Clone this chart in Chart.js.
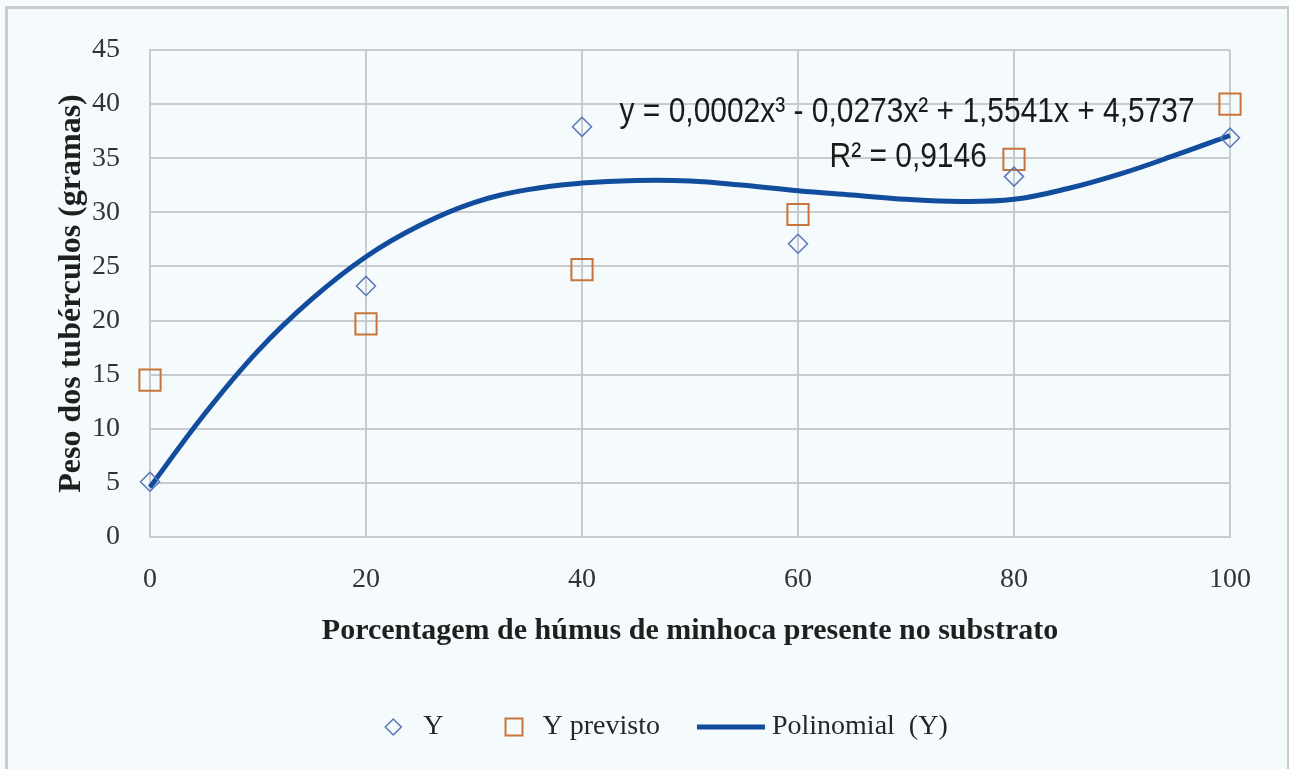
<!DOCTYPE html>
<html>
<head>
<meta charset="utf-8">
<script src="https://cdn.jsdelivr.net/npm/chart.js@4/dist/chart.umd.min.js"></script>
<style>
  html, body { margin:0; padding:0; background:#f5fbfd; }
  #wrap { position:relative; width:1289px; height:769px; }
  #c { position:absolute; left:0; top:0; }
  #frame { position:absolute; left:5px; top:6px; width:1279px; height:770px; border:3px solid #cbcbcb; border-bottom:none; pointer-events:none; }
</style>
</head>
<body>
<div id="wrap">
  <canvas id="c" width="1289" height="769"></canvas>
  <div id="frame"></div>
</div>
<script>
'use strict';
// ── Data ──────────────────────────────────────────────────
const X_VALUES = [0, 20, 40, 60, 80, 100];
const Y_OBS    = [5.1, 23.2, 37.9, 27.1, 33.3, 36.9];
const Y_PRED   = [14.5, 19.7, 24.7, 29.8, 34.9, 40.0];

// trend line
const TREND_X = [0, 5, 10, 15, 20, 25, 30, 35, 40, 45, 50, 55, 60, 65, 70, 75, 80, 85, 90, 95, 100];
const TREND_Y = [4.6, 11.3, 17.2, 22.0, 25.9, 28.8, 30.9, 32.1, 32.7, 32.95, 32.9, 32.5, 32.0, 31.6, 31.2, 31.0, 31.2, 32.2, 33.6, 35.3, 37.1];

const EQ_TEXT = 'y = 0,0002x³ - 0,0273x² + 1,5541x + 4,5737';
const R2_TEXT = 'R² = 0,9146';
const EQ_POS  = { x: 70.1, y: 39.2 };
const R2_POS  = { x: 70.2, y: 35.1 };
const EQ_WIDTH = 575;   // width of the equation label in the original

const SERIF = '"Liberation Serif", "Times New Roman", serif';
const SANS  = '"Liberation Sans", Arial, sans-serif';
const GRID = '#c8ccd0';
const C_OBS = '#5a76b6', C_PRED = '#c8743a', C_TREND = '#114d9c';

const pts = (xs, ys) => xs.map((x, i) => ({ x, y: ys[i] }));

// ── Plugins ───────────────────────────────────────────────
const bg = {
  id: 'bg',
  beforeDraw(chart) {
    const ctx = chart.ctx;
    ctx.save(); ctx.fillStyle = '#f5fbfd'; ctx.fillRect(0, 0, chart.width, chart.height); ctx.restore();
  }
};

// trendline label, squeezed horizontally like the original narrow font
const equation = {
  id: 'equation',
  afterDatasetsDraw(chart) {
    const { ctx, scales: { x, y } } = chart;
    ctx.save();
    ctx.fillStyle = '#1a1a1a';
    ctx.textAlign = 'center'; ctx.textBaseline = 'middle';
    ctx.font = `35px ${SANS}`;
    const k = EQ_WIDTH / ctx.measureText(EQ_TEXT).width;
    const put = (txt, p) => {
      ctx.save();
      ctx.translate(x.getPixelForValue(p.x), y.getPixelForValue(p.y));
      ctx.scale(k, 1);
      ctx.fillText(txt, 0, 0);
      ctx.restore();
    };
    put(EQ_TEXT, EQ_POS);
    put(R2_TEXT, R2_POS);
    ctx.restore();
  }
};

const legend = {
  id: 'customLegend',
  afterDraw(chart) {
    const ctx = chart.ctx;
    const ds = chart.data.datasets;
    const cy = chart.height - 42;
    ctx.save();
    ctx.font = `28px ${SERIF}`;
    ctx.textBaseline = 'middle';
    const items = [
      { d: ds[0], w: 16, gap: 22, after: 62, r: 8 },
      { d: ds[1], w: 17, gap: 20, after: 37, r: 12 },
      { d: ds[2], w: 68, gap: 7,  after: 0 },
    ];
    const total = items.reduce((s, it) => s + it.w + it.gap + ctx.measureText(it.d.label).width + it.after, 0);
    let x = (chart.width - total) / 2 + 22;
    for (const it of items) {
      const cx = x + it.w / 2;
      ctx.strokeStyle = it.d.borderColor;
      if (it.d.pointStyle === 'line') {
        ctx.lineWidth = 5;
        ctx.beginPath(); ctx.moveTo(x, cy); ctx.lineTo(x + it.w, cy); ctx.stroke();
      } else {
        ctx.fillStyle = 'rgba(255,255,255,0)';
        ctx.lineWidth = it.d.borderWidth;
        Chart.helpers.drawPoint(ctx, { pointStyle: it.d.pointStyle, radius: it.r, borderWidth: it.d.borderWidth, rotation: 0 }, cx, cy);
      }
      ctx.fillStyle = '#262626';
      ctx.fillText(it.d.label, x + it.w + it.gap, cy);
      x += it.w + it.gap + ctx.measureText(it.d.label).width + it.after;
    }
    ctx.restore();
  }
};

// ── Chart ─────────────────────────────────────────────────
new Chart(document.getElementById('c').getContext('2d'), {
  type: 'scatter',
  data: {
    datasets: [
      { label: 'Y', data: pts(X_VALUES, Y_OBS), pointStyle: 'rectRot', radius: 9.5, borderWidth: 1.5,
        borderColor: C_OBS, backgroundColor: 'rgba(255,255,255,0)', clip: false },
      { label: 'Y previsto', data: pts(X_VALUES, Y_PRED), pointStyle: 'rect', radius: 15, borderWidth: 2,
        borderColor: C_PRED, backgroundColor: 'rgba(255,255,255,0)', clip: false },
      { label: 'Polinomial  (Y)', data: pts(TREND_X, TREND_Y), type: 'line', showLine: true, pointStyle: 'line',
        pointRadius: 0, borderColor: C_TREND, borderWidth: 5, tension: 0.4, fill: false, clip: false },
    ]
  },
  options: {
    responsive: false, animation: false,
    layout: { padding: { left: 0, top: 50, right: 59, bottom: 112 } },
    plugins: { legend: { display: false }, tooltip: { enabled: false } },
    scales: {
      x: {
        type: 'linear', min: 0, max: 100,
        ticks: { stepSize: 20, padding: 26, color: '#333', font: { family: SERIF, size: 28 } },
        grid: { color: GRID, lineWidth: 2, drawTicks: false },
        border: { color: GRID, width: 2 },
        title: { display: true, text: 'Porcentagem de húmus de minhoca presente no substrato', color: '#1f1f1f',
                 font: { family: SERIF, size: 30, weight: 'bold' }, padding: { top: 0, bottom: 8 } },
        afterFit: s => { s.height = 120; }
      },
      y: {
        min: 0, max: 45,
        ticks: { stepSize: 5, padding: 30, color: '#333', font: { family: SERIF, size: 28 } },
        grid: { color: GRID, lineWidth: 2, drawTicks: false },
        border: { color: GRID, width: 2 },
        title: { display: true, text: 'Peso dos tubérculos (gramas)', color: '#1f1f1f',
                 font: { family: SERIF, size: 32, weight: 'bold' }, padding: { top: 53, bottom: 0 } },
        afterFit: s => { s.width = 150; }
      }
    }
  },
  plugins: [bg, equation, legend]
});
</script>
</body>
</html>
